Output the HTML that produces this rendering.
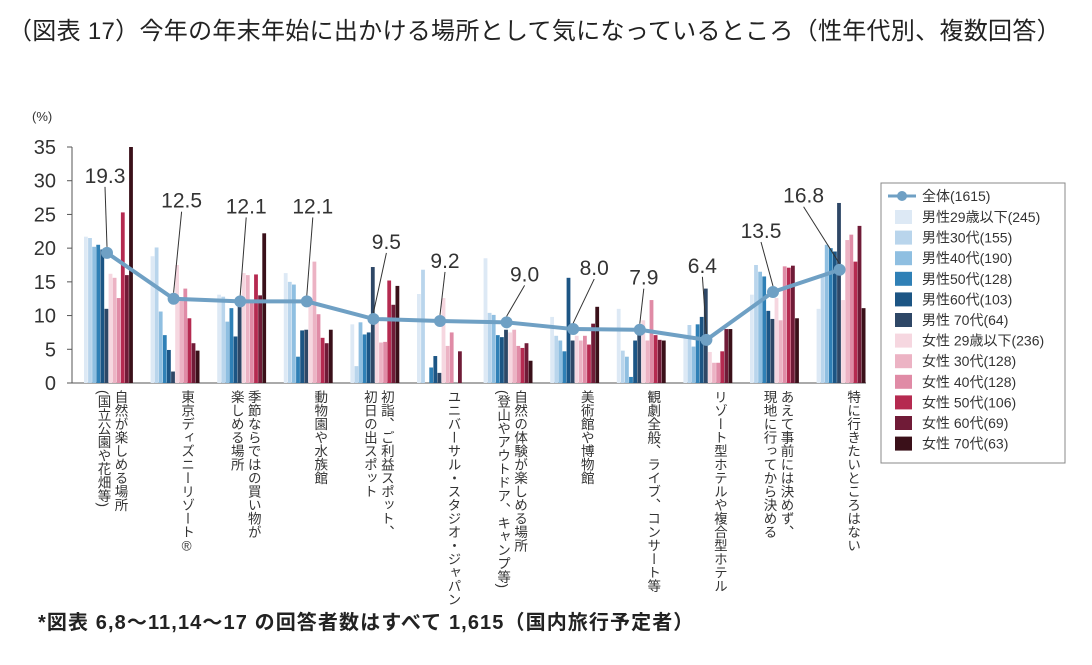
<!DOCTYPE html>
<html><head><meta charset="utf-8">
<style>
body{margin:0;background:#fff;font-family:"Liberation Sans","Noto Sans CJK JP",sans-serif;}
#wrap{position:relative;width:1092px;height:665px;overflow:hidden;}
.title{position:absolute;left:8px;top:11px;font-size:24px;color:#222;white-space:nowrap;letter-spacing:0.3px;}
.foot{position:absolute;left:38px;top:606px;font-size:20px;font-weight:bold;color:#222;white-space:nowrap;letter-spacing:1.1px;}
</style></head><body>
<div id="wrap">
<div class="title">（図表 17）今年の年末年始に出かける場所として気になっているところ（性年代別、複数回答）</div>
<svg id="c" width="1092" height="665" style="position:absolute;left:0;top:0"></svg>
<div class="foot">*図表 6,8～11,14～17 の回答者数はすべて 1,615（国内旅行予定者）</div>
</div>
<script>
const categories=[["自然が楽しめる場所","(国立公園や花畑等)"],["東京ディズニーリゾート®"],["季節ならではの買い物が","楽しめる場所"],["動物園や水族館"],["初詣、ご利益スポット、","初日の出スポット"],["ユニバーサル・スタジオ・ジャパン"],["自然の体験が楽しめる場所","(登山やアウトドア、キャンプ等)"],["美術館や博物館"],["観劇全般、ライブ、コンサート等"],["リゾート型ホテルや複合型ホテル"],["あえて事前には決めず、","現地に行ってから決める"],["特に行きたいところはない"]];
const seriesNames=["男性29歳以下(245)","男性30代(155)","男性40代(190)","男性50代(128)","男性60代(103)","男性 70代(64)","女性 29歳以下(236)","女性 30代(128)","女性 40代(128)","女性 50代(106)","女性 60代(69)","女性 70代(63)"];
const seriesColors=["#dde9f5","#b9d5ec","#8fbfe1","#2f80b6","#1c5584","#2e4766","#f6d7e0","#ecb3c4","#e08ba6","#b52a50","#701b37","#3a1019"];
const s0=[21.7,18.8,13.1,16.3,8.7,13.2,18.5,9.8,11.0,6.6,13.1,11.0];
const s1=[21.5,20.1,12.8,15.0,2.5,16.8,10.4,7.0,4.8,8.6,17.5,16.0];
const s2=[20.2,10.6,9.1,14.6,9.0,0.0,10.1,6.3,3.9,5.4,16.5,20.5];
const s3=[20.5,7.1,11.1,3.9,7.2,2.3,7.1,4.7,0.9,8.7,15.8,20.0];
const s4=[19.8,4.9,6.9,7.8,7.5,4.0,6.8,15.6,6.3,9.8,10.7,19.5];
const s5=[11.0,1.7,12.5,7.9,17.2,1.5,7.9,6.3,7.9,14.0,9.5,26.7];
const s6=[16.2,17.5,16.3,12.2,9.7,12.6,7.5,7.0,9.3,4.6,12.6,12.3];
const s7=[15.6,12.3,16.0,18.0,6.0,5.5,7.9,6.3,6.3,3.0,9.3,21.2];
const s8=[12.6,14.0,12.0,10.2,6.1,7.5,5.5,7.0,12.3,3.0,17.3,22.0];
const s9=[25.3,9.6,16.1,6.7,15.2,0.0,5.2,5.7,7.1,4.7,17.1,18.0];
const s10=[16.0,5.9,13.0,5.9,11.6,4.7,5.9,8.8,6.4,8.0,17.4,23.3];
const s11=[35.0,4.8,22.2,7.9,14.4,0.0,3.3,11.3,6.3,8.0,9.6,11.1];
const total=[19.3,12.5,12.1,12.1,9.5,9.2,9.0,8.0,7.9,6.4,13.5,16.8];
const yTicks=[0,5,10,15,20,25,30,35];
const series=[s0,s1,s2,s3,s4,s5,s6,s7,s8,s9,s10,s11];
// label layout offsets (pixels, not data)
const labelDx=[-2,8,6,6,13,5,18,21,4,-4,-12,-36];
const labelDy=[70,91,88,88,70,53,41,54,45,67,54,67];

const NS="http://www.w3.org/2000/svg";
const svg=document.getElementById('c');
const y0=383,y35=147;
function yS(v){return y0-(y0-y35)*v/35;}
function xC(i){return 107+66.6*i;}
const bw=4.1;
function mk(t,a,p){const e=document.createElementNS(NS,t);for(const k in a)e.setAttribute(k,a[k]);(p||svg).appendChild(e);return e;}

let t=mk('text',{x:32,y:121,'font-size':13,fill:'#333'});t.textContent='(%)';


yTicks.forEach(v=>{
  const tx=mk('text',{x:56,y:yS(v)+7,'font-size':20,fill:'#333','text-anchor':'end'});tx.textContent=v;
  
  
  const tk=mk('line',{x1:67,x2:72,y1:yS(v),y2:yS(v),stroke:'#555','stroke-width':1});
  
  
});
let ax=mk('line',{x1:72,x2:72,y1:yS(35),y2:y0,stroke:'#555','stroke-width':1});


let xa=mk('line',{x1:72,x2:866,y1:y0,y2:y0,stroke:'#555','stroke-width':1});



categories.forEach((c,i)=>{
  series.forEach((s,j)=>{
    const v=s[i];
    const r=mk('rect',{x:xC(i)-23+j*bw,y:yS(v),width:bw-0.3,height:y0-yS(v),fill:seriesColors[j]});
    
    
  });
});
let pts=total.map((v,i)=>xC(i)+','+yS(v)).join(' ');
let pl=mk('polyline',{points:pts,fill:'none',stroke:'#6fa0c4','stroke-width':4});


total.forEach((v,i)=>{
  const c=mk('circle',{cx:xC(i),cy:yS(v),r:6,fill:'#6fa0c4'});
  
  
  const lx=xC(i)+labelDx[i], ly=yS(v)-labelDy[i];
  const ld=mk('line',{x1:lx,y1:ly+4,x2:xC(i),y2:yS(v)-6,stroke:'#333','stroke-width':1});
  
  
  const lt=mk('text',{x:lx,y:ly,'font-size':21,fill:'#333','text-anchor':'middle'});lt.textContent=v.toFixed(1);
  
  
});
categories.forEach((c,i)=>{
  c.forEach((line,k)=>{
    const x=xC(i)+13-k*17;
    const tx=mk('text',{x:x,y:390,'font-size':13.5,fill:'#333'});
    tx.setAttribute('style','writing-mode:vertical-rl');
    tx.textContent=line;
    
    
  });
});
let lb=mk('rect',{x:881,y:183,width:184,height:280,fill:'#fff',stroke:'#888','stroke-width':1});


let g=mk('g',{});


mk('line',{x1:888,x2:916,y1:196,y2:196,stroke:'#6fa0c4','stroke-width':3},g);
mk('circle',{cx:902,cy:196,r:5,fill:'#6fa0c4'},g);
let lt0=mk('text',{x:922,y:201,'font-size':14,fill:'#333'},g);lt0.textContent='全体(1615)';
seriesNames.forEach((n,j)=>{
  const y=216+j*20.6;
  const gg=mk('g',{});
  
  
  mk('rect',{x:895,y:y-6,width:17,height:14,fill:seriesColors[j]},gg);
  const tt=mk('text',{x:922,y:y+6,'font-size':14,fill:'#333'},gg);tt.textContent=n;
});
</script>
</body></html>
